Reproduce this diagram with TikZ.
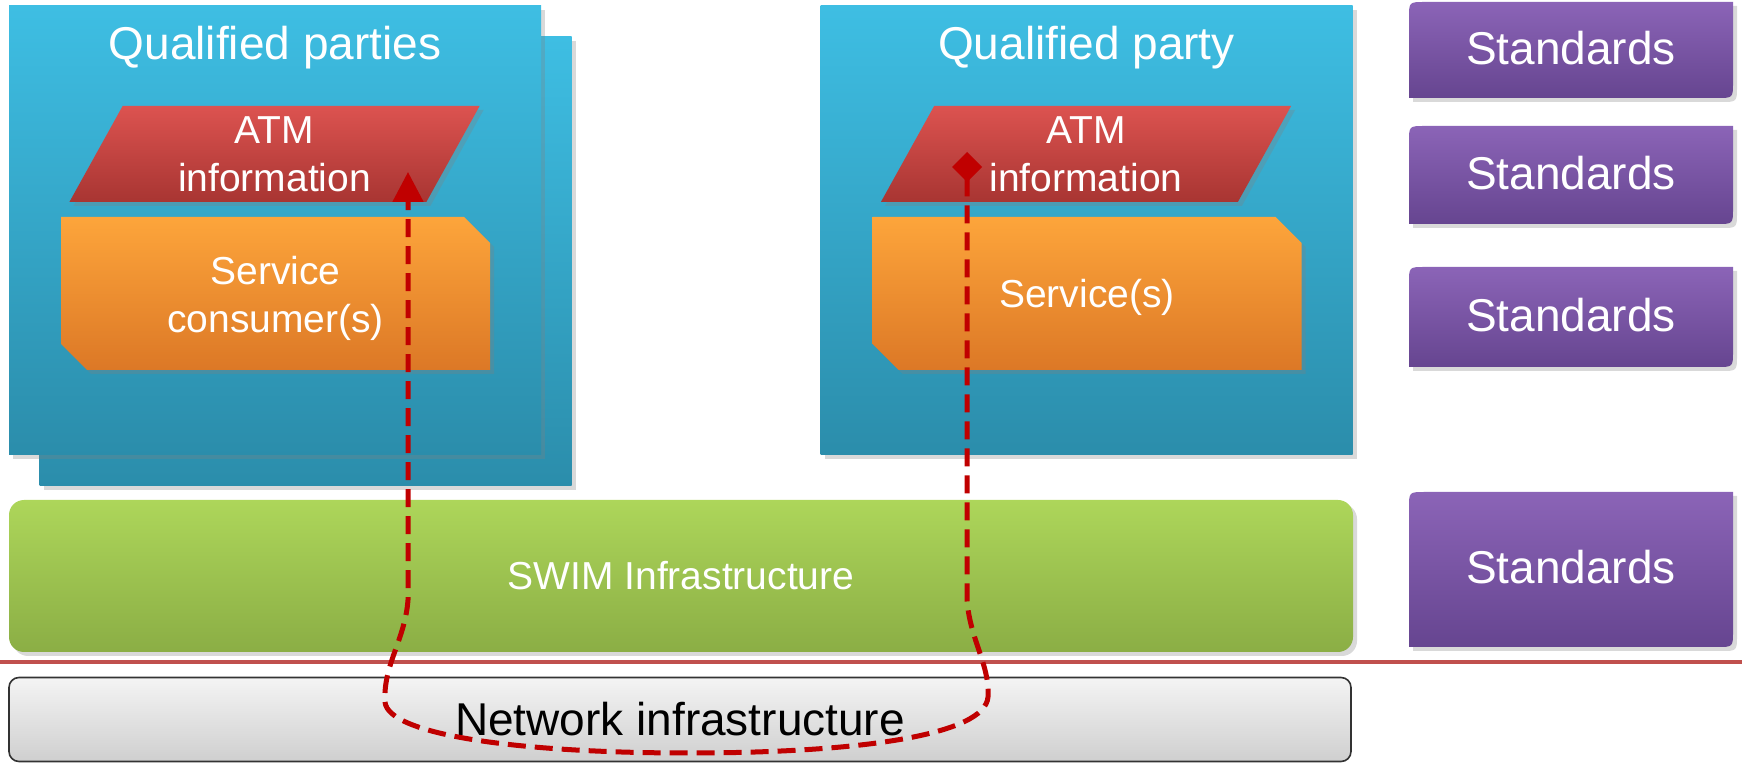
\documentclass[tikz,border=0pt]{standalone}
\usepackage{fontspec}
\setmainfont{Liberation Sans}
\usetikzlibrary{arrows.meta,shapes.geometric,shapes.misc,shadows,calc,positioning}

\definecolor{qpTop}{HTML}{3EBEE3}
\definecolor{qpBot}{HTML}{2B8DAB}
\definecolor{atmTop}{HTML}{DC5350}
\definecolor{atmBot}{HTML}{A83532}
\definecolor{svcTop}{HTML}{FDA53B}
\definecolor{svcBot}{HTML}{DC7826}
\definecolor{swimTop}{HTML}{ADD65A}
\definecolor{swimBot}{HTML}{8BAE45}
\definecolor{stdTop}{HTML}{8B64B7}
\definecolor{stdBot}{HTML}{664590}
\definecolor{netTop}{HTML}{F4F4F4}
\definecolor{netBot}{HTML}{CFCFCF}
\definecolor{sepRed}{HTML}{C0504D}
\definecolor{flowRed}{HTML}{C00000}

\begin{document}
\begin{tikzpicture}[x=0.5pt, y=-0.5pt,
  shad/.style={drop shadow={opacity=0.3, shadow xshift=2pt, shadow yshift=-2pt}},
  party/.style={rectangle, inner sep=0pt, minimum width=266pt, minimum height=224.5pt,
    top color=qpTop, bottom color=qpBot, shad},
  title/.style={inner sep=0pt, text=white, font=\fontsize{23}{27}\selectfont},
  info/.style={trapezium, trapezium left angle=66, trapezium right angle=114,
    trapezium stretches=true, inner sep=0pt, minimum width=205.5pt, minimum height=48pt,
    top color=atmTop, bottom color=atmBot, text=white, align=center, shad,
    text height=38pt, text depth=0pt, font=\fontsize{19.5}{24}\selectfont},
  svc/.style={chamfered rectangle, chamfered rectangle corners={north east,south west},
    chamfered rectangle xsep=6.5pt, chamfered rectangle ysep=6.5pt, inner sep=0pt,
    minimum width=214.5pt, minimum height=76.5pt, top color=svcTop, bottom color=svcBot,
    text=white, align=center, shad, text depth=4pt,
    font=\fontsize{19.5}{24}\selectfont},
  stdfill/.style={top color=stdTop, bottom color=stdBot, shad},
  stdtext/.style={inner sep=0pt, text=white, font=\fontsize{23}{27}\selectfont},
  flow/.style={draw=flowRed, line width=2.5pt, dash pattern=on 9pt off 4.5pt,
    {Diamond[length=15pt,width=15pt]}-{Triangle[length=15pt,width=15pt]}}]
  \useasboundingbox (0,0) rectangle (1742,764);
  % ---- consumer side ----
  \node[party] (qpBack) at (305.5,261.5) {};
  \node[party] (qpL) at (275,230.5) {};
  \node[title] (qpLtitle) at ($(qpL.north)+(0,42)$) {Qualified parties};
  \node[info] (atmL) at (274.5,154) {ATM\\information};
  \node[svc, text height=43.5pt] (svcL) at (275.5,293.5) {Service\\consumer(s)};
  % ---- provider side ----
  \node[party] (qpR) at (1086.5,230.5) {};
  \node[title] (qpRtitle) at ($(qpR.north)+(0,42)$) {Qualified party};
  \node[info] (atmR) at (1086,154) {ATM\\information};
  \node[svc, text height=18.5pt] (svcR) at (1087,293.5) {Service(s)};
  % ---- infrastructure ----
  \node[rectangle, rounded corners=7.5pt, minimum width=672pt, minimum height=76pt,
    top color=swimTop, bottom color=swimBot, shad, text=white,
    font=\fontsize{19.5}{23.5}\selectfont] (swim) at (681,576) {SWIM Infrastructure};
  \draw[sepRed, line width=2pt] (0,662) -- (1742,662);
  \node[rectangle, rounded corners=5pt, draw=black!80, line width=0.8pt,
    minimum width=671pt, minimum height=42pt, top color=netTop, bottom color=netBot,
    font=\fontsize{23}{27}\selectfont] (net) at (680,719.5) {Network infrastructure};
  % ---- standards ----
  \foreach \n/\ya/\yb in {1/2/98, 2/126/224, 3/267/367, 4/492/647} {
    \shade[stdfill] (1409,\yb) -- (1409,{\ya+16}) .. controls (1409,\ya) .. (1425,\ya)
      -- (1733,\ya) -- (1733,{\yb-16}) .. controls (1733,\yb) .. (1717,\yb) -- cycle;
    \node[stdtext] (std\n) at (1571,{(\ya+\yb)/2-2}) {Standards};
  }
  % ---- information flow ----
  \coordinate (src) at ($(atmR.center)+(-119,-2)$);
  \coordinate (dst) at ($(atmL.center)+(133.5,18)$);
  \draw[flow] (src) -- (967,600) .. controls (970,640) and (990,665) .. (988,697)
    .. controls (985,735) and (860,753) .. (688,753)
    .. controls (520,753) and (388,735) .. (385,702)
    .. controls (383,665) and (405,640) .. (408,600) -- (dst);
\end{tikzpicture}
\end{document}
